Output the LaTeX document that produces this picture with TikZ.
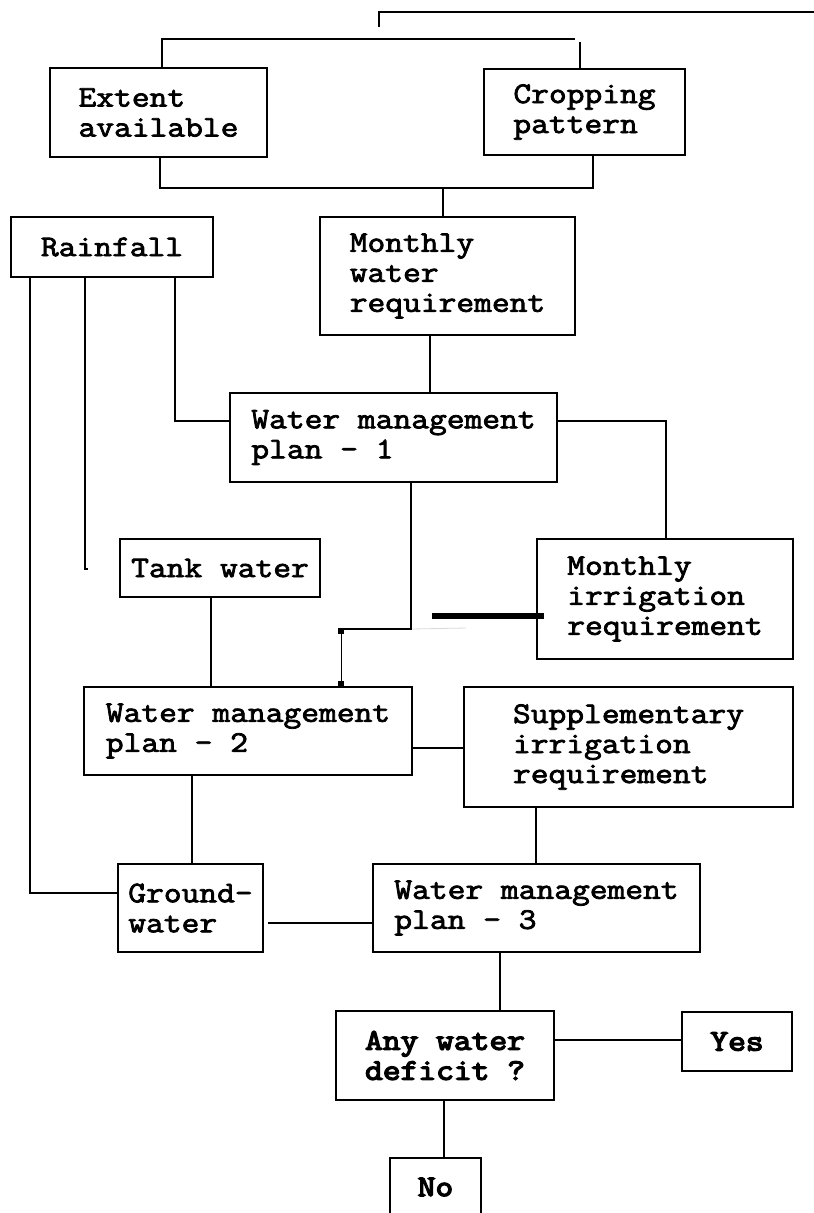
\documentclass[tikz,border=0pt]{standalone}
\usepackage{fontspec}
\newfontfamily\cour{Latin Modern Mono}[FakeStretch=1.15, FakeBold=2.6]
\newfontfamily\courbold{Latin Modern Mono}[FakeStretch=1.15, FakeBold=4.5]
\begin{document}
\begin{tikzpicture}[x=1pt,y=-1pt,
  box/.style={draw, line width=2pt, align=left, inner sep=0pt,
    font=\cour\fontsize{30}{30}\selectfont},
  heavybox/.style={box, font=\courbold\fontsize{30}{30}\selectfont},
  conn/.style={line width=2pt},
  thinconn/.style={line width=1pt}]
\useasboundingbox[fill=white] (0,0) rectangle (814,1213);

% boxes
\node[box, minimum width=217pt, minimum height=89pt] (extent) at (158.5,112.5) {Extent\\available};
\node[box, minimum width=201pt, minimum height=86pt] (crop) at (584.5,112) {Cropping\\pattern};
\node[box, minimum width=202pt, minimum height=60pt] (rain) at (112,247) {Rainfall};
\node[box, minimum width=255pt, minimum height=118pt] (mwr) at (447.5,276) {Monthly\\water\\requirement};
\node[box, minimum width=327pt, minimum height=89pt] (wmp1) at (393.5,437.5) {Water management\\plan - 1};
\node[box, minimum width=200pt, minimum height=58pt] (tank) at (220,568) {Tank water};
\node[box, minimum width=256pt, minimum height=120pt] (mir) at (665,599) {Monthly\\irrigation\\requirement};
\node[box, minimum width=328pt, minimum height=88pt] (wmp2) at (248,731) {Water management\\plan - 2};
\node[box, minimum width=329pt, minimum height=120pt] (supp) at (628.5,747) {Supplementary\\irrigation\\requirement};
\node[box, minimum width=145pt, minimum height=88pt] (ground) at (190.5,908) {Ground-\\water};
\node[box, minimum width=327pt, minimum height=88pt] (wmp3) at (536.5,908) {Water management\\plan - 3};
\node[heavybox, minimum width=218pt, minimum height=89pt] (deficit) at (445,1055.5) {Any water\\deficit ?};
\node[heavybox, minimum width=110pt, minimum height=59pt] (yes) at (737,1041.5) {Yes};
\node[heavybox, minimum width=91pt, minimum height=58pt] (no) at (435.5,1187) {No};

% top lines
\coordinate (tR) at (814,12);
\coordinate (tL) at (379,12);
\draw[conn] (tR) -- (tL) -- ++(0,15);

% bracket above extent / crop
\coordinate (b1) at (162,39);
\coordinate (b2) at (575,39);
\coordinate (b3) at (580,42);
\draw[conn] (b1 |- extent.north) -- (b1) -- (b2);
\draw[conn] (b3) -- (b3 |- crop.north);

% bracket below extent / crop
\coordinate (jL) at (160,188);
\coordinate (jR) at (593,188);
\coordinate (j1) at (443,188);
\draw[conn] (jL |- extent.south) -- (jL) -- (jR) -- (jR |- crop.south);
\draw[conn] (j1) -- (j1 |- mwr.north);

% mwr -> wmp1
\coordinate (v1) at (430,0);
\draw[conn] (mwr.south -| v1) -- (wmp1.north -| v1);

% rainfall lines
\coordinate (r3) at (175,421);
\draw[conn] (r3 |- rain.south) -- (r3) -- (r3 -| wmp1.west);
\coordinate (r2) at (85,569);
\draw[conn] (r2 |- rain.south) -- (r2) -- ++(3,0);
\coordinate (r1) at (30,893);
\draw[conn] (r1 |- rain.south) -- (r1) -- (r1 -| ground.west);

% wmp1 -> mir
\coordinate (w1) at (666,421);
\draw[conn] (w1 -| wmp1.east) -- (w1) -- (w1 |- mir.north);

% wmp1 -> wmp2
\coordinate (p1) at (411,629);
\coordinate (p2) at (341,629);
\coordinate (p3) at (341,687);
\draw[black!15, line width=0.8pt] (p1) -- ++(55,-1);
\draw[conn] (p1 |- wmp1.south) -- (p1) -- (p2);
\draw[thinconn] (p2) -- (p3 |- wmp2.north);
\fill (p2) ++(-3,-1) rectangle ++(6,6);
\fill (p3) ++(-3,-6) rectangle ++(6,6);

% thick line into mir
\coordinate (t1) at (432,616);
\coordinate (t2) at (544,616);
\draw[line width=6pt] (t1) -- (t2);

% tank -> wmp2
\coordinate (k1) at (211,0);
\draw[conn] (tank.south -| k1) -- (wmp2.north -| k1);

% wmp2 -> supp
\coordinate (s1) at (0,748);
\draw[conn] (wmp2.east |- s1) -- (supp.west |- s1);

% wmp2 -> ground
\coordinate (g1) at (192,0);
\draw[conn] (wmp2.south -| g1) -- (ground.north -| g1);

% supp -> wmp3
\coordinate (s2) at (536,0);
\draw[conn] (supp.south -| s2) -- (wmp3.north -| s2);

% ground -> wmp3
\coordinate (g2) at (0,923);
\draw[conn] (ground.east |- g2) ++(4,0) -- (wmp3.west |- g2);

% wmp3 -> deficit
\coordinate (d1) at (500,0);
\draw[conn] (wmp3.south -| d1) -- (deficit.north -| d1);

% deficit -> yes
\coordinate (y1) at (0,1040);
\draw[conn] (deficit.east |- y1) -- (yes.west |- y1);

% deficit -> no
\coordinate (n1) at (444,0);
\draw[conn] (deficit.south -| n1) -- (no.north -| n1);
\end{tikzpicture}
\end{document}
